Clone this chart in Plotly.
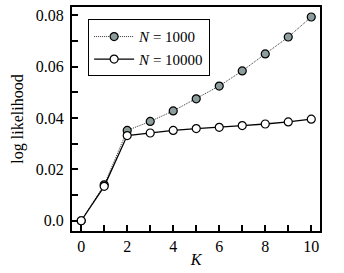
import plotly.graph_objects as go

K = list(range(11))
ll_1000 = [0.0, 0.014, 0.0352, 0.0387, 0.0428, 0.0475, 0.0525, 0.0584, 0.0650, 0.0716, 0.0794]
ll_10000 = [0.0, 0.0134, 0.0332, 0.0342, 0.0352, 0.0359, 0.0364, 0.0371, 0.0377, 0.0385, 0.0396]

y_tickvals = [0.0, 0.01, 0.02, 0.03, 0.04, 0.05, 0.06, 0.07, 0.08]
y_ticktext = ["0.0", "", "0.02", "", "0.04", "", "0.06", "", "0.08"]
x_tickvals = list(range(11))
x_ticktext = ["0", "", "2", "", "4", "", "6", "", "8", "", "10"]

FONT = "Times New Roman, Liberation Serif, serif"

fig = go.Figure()
fig.add_trace(go.Scatter(
    x=K, y=ll_1000, mode="lines+markers", name="<i>N</i> = 1000",
    line=dict(color="#333333", width=1, dash="1px,1px"),
    marker=dict(size=8, color="#8d9d9d", line=dict(color="black", width=1.2)),
))
fig.add_trace(go.Scatter(
    x=K, y=ll_10000, mode="lines+markers", name="<i>N</i> = 10000",
    line=dict(color="black", width=1.3),
    marker=dict(size=8, color="white", line=dict(color="black", width=1.2)),
))

fig.update_layout(
    width=344, height=273,
    margin=dict(l=72, r=24, t=7, b=42),
    paper_bgcolor="white", plot_bgcolor="white",
    font=dict(family=FONT, size=16, color="black"),
    showlegend=True,
    legend=dict(
        x=0.065, y=0.945, xanchor="left", yanchor="top",
        bordercolor="black", borderwidth=1, bgcolor="white",
        font=dict(family=FONT, size=15, color="black"),
        tracegroupgap=0, itemwidth=40,
    ),
)
fig.update_xaxes(
    range=[-0.4, 10.38], tickvals=x_tickvals, ticktext=x_ticktext,
    ticks="inside", ticklen=6, tickwidth=1.5, tickcolor="black",
    tickfont=dict(family=FONT, size=16, color="black"),
    showline=True, linecolor="black", linewidth=2, mirror=True,
    showgrid=False, zeroline=False, automargin=False,
    title=dict(text="<i>K</i>", standoff=0, font=dict(family=FONT, size=16, color="black")),
)
fig.update_yaxes(
    range=[-0.004, 0.0833], tickvals=y_tickvals, ticktext=y_ticktext,
    ticks="inside", ticklen=6, tickwidth=1.5, tickcolor="black",
    tickfont=dict(family=FONT, size=16, color="black"), ticklabelstandoff=3,
    showline=True, linecolor="black", linewidth=2, mirror=True,
    showgrid=False, zeroline=False, automargin=False,
    title=dict(text="log likelihood", standoff=8, font=dict(family=FONT, size=16, color="black")),
)

fig.write_html("out.html", config={"displayModeBar": False},
               post_script="document.body.style.margin='0';")
